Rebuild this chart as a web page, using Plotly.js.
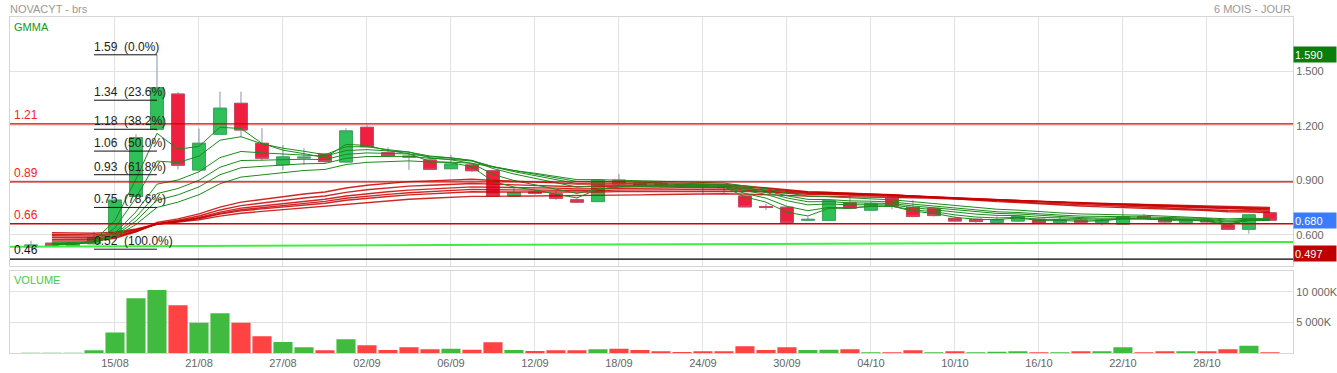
<!DOCTYPE html>
<html>
<head>
<meta charset="utf-8">
<script src="https://cdn.plot.ly/plotly-3.0.1.min.js"></script>
<style>html,body{margin:0;padding:0;background:#fff;}#chart{width:1337px;height:373px;}</style>
</head>
<body>
<div id="chart"></div>
<script>
// ---------- DATA ----------
const dates = ['09/08','12/08','13/08','14/08','15/08','16/08','19/08','20/08','21/08','22/08','23/08','26/08','27/08','28/08','29/08','30/08',
'02/09','03/09','04/09','05/09','06/09','09/09','10/09','11/09','12/09','13/09','16/09','17/09','18/09','19/09','20/09','23/09','24/09','25/09','26/09','27/09','30/09',
'01/10','02/10','03/10','04/10','07/10','08/10','09/10','10/10','11/10','14/10','15/10','16/10','17/10','18/10','21/10','22/10','23/10','24/10','25/10','28/10','29/10','30/10','31/10'];

const open  = [.532,.553,.535,.550,.610,.810,1.180,1.374,.956,1.153,1.323,1.103,.985,1.022,1.044,1.000,1.191,1.051,1.032,1.011,.963,.984,.952,.813,.835,.825,.792,.782,.900,.885,
.880,.875,.870,.868,.813,.755,.751,.680,.679,.775,.735,.800,.750,.745,.690,.685,.668,.675,.685,.668,.680,.668,.658,.700,.690,.668,.680,.653,.630,.720];
const high  = [.567,.556,.556,.617,.795,1.153,1.590,1.385,1.184,1.387,1.387,1.186,1.094,1.076,1.050,1.186,1.204,1.081,1.057,1.015,1.039,.990,.955,.861,.845,.840,.800,.905,.935,.890,
.890,.880,.885,.880,.820,.770,.755,.700,.790,.830,.780,.805,.790,.750,.700,.690,.700,.705,.690,.705,.690,.690,.740,.715,.700,.690,.690,.660,.715,.725];
const low   = [.530,.538,.532,.545,.600,.800,1.170,.960,.950,1.150,1.136,1.006,.956,.984,.995,.995,1.080,1.030,.956,.955,.960,.945,.810,.810,.820,.790,.775,.780,.875,.865,
.860,.865,.820,.830,.750,.735,.665,.675,.675,.740,.730,.740,.695,.700,.670,.665,.665,.670,.660,.665,.665,.650,.655,.685,.665,.665,.665,.625,.605,.680];
const close = [.543,.540,.552,.585,.790,1.134,1.409,.982,1.103,1.296,1.176,1.021,1.028,1.026,1.002,1.171,1.084,1.035,1.028,.960,.989,.952,.813,.831,.828,.800,.779,.900,.880,.872,
.872,.868,.865,.860,.753,.750,.666,.684,.787,.745,.770,.757,.700,.705,.675,.672,.683,.700,.664,.680,.668,.680,.700,.690,.670,.680,.670,.630,.709,.680];

// volume in thousands, and colour of each volume bar (1 = green, 0 = red)
const volumeK = [50,30,50,440,3330,8960,10270,7810,4920,6500,4920,2730,1800,930,440,2240,1260,490,930,600,710,550,1750,490,330,440,440,600,710,490,
300,160,270,270,1090,490,930,490,550,600,110,110,440,110,270,110,220,270,110,110,270,270,930,110,270,270,270,600,1200,110];
const volumeUp = [1,1,1,1,1,1,1,0,1,1,0,0,1,1,0,1,0,0,0,0,1,0,0,1,0,0,0,1,0,0,
0,0,0,0,0,0,0,1,1,0,1,0,0,1,0,1,1,1,0,1,0,1,1,0,0,1,0,0,1,0];

// GMMA lines, values from 12/08 to 31/10
const gmmaDates = dates.slice(1);
const ema3  = [.542,.547,.566,.678,.906,1.158,1.070,1.086,1.191,1.184,1.102,1.065,1.046,1.024,1.097,1.091,1.063,1.045,1.003,.996,.974,.893,.862,.846,.823,.802,.851,.865,.869,.870,.869,.867,.864,.808,.779,.723,.703,.745,.745,.758,.757,.729,.717,.696,.684,.683,.692,.678,.679,.673,.677,.688,.689,.680,.680,.675,.652,.681,.680];
const ema5  = [.545,.547,.560,.637,.803,1.005,.997,1.032,1.120,1.139,1.100,1.076,1.059,1.040,1.084,1.084,1.068,1.055,1.023,1.012,.992,.932,.898,.875,.850,.827,.851,.861,.865,.867,.867,.866,.864,.827,.801,.756,.732,.750,.748,.755,.756,.737,.726,.709,.697,.692,.695,.685,.683,.678,.679,.686,.687,.681,.681,.677,.661,.677,.678];
const ema8  = [.548,.549,.557,.609,.726,.878,.901,.946,1.024,1.058,1.050,1.045,1.041,1.032,1.063,1.068,1.061,1.054,1.033,1.023,1.007,.964,.934,.911,.886,.862,.870,.872,.872,.872,.871,.870,.868,.842,.822,.787,.764,.769,.764,.765,.763,.749,.739,.725,.713,.706,.705,.696,.692,.687,.685,.688,.688,.684,.683,.680,.669,.678,.678];
const ema10 = [.550,.550,.556,.599,.696,.826,.854,.899,.971,1.008,1.010,1.013,1.015,1.013,1.042,1.050,1.047,1.044,1.029,1.022,1.009,.973,.947,.926,.903,.881,.884,.883,.881,.879,.877,.875,.872,.850,.832,.802,.781,.782,.775,.774,.771,.758,.748,.735,.724,.717,.714,.705,.700,.694,.691,.693,.692,.688,.687,.684,.674,.680,.680];
const ema12 = [.552,.552,.557,.593,.676,.789,.819,.863,.930,.968,.976,.984,.990,.992,1.020,1.030,1.031,1.031,1.020,1.015,1.005,.975,.953,.934,.913,.893,.894,.892,.889,.886,.883,.880,.877,.858,.841,.814,.794,.793,.786,.784,.780,.768,.758,.745,.734,.726,.722,.713,.708,.702,.699,.699,.698,.694,.692,.689,.680,.684,.683];
const ema15 = [.555,.555,.559,.588,.656,.750,.779,.820,.880,.917,.930,.942,.953,.959,.986,.998,1.003,1.006,1.000,.999,.993,.971,.953,.938,.921,.903,.903,.900,.897,.894,.891,.888,.884,.868,.853,.830,.812,.809,.801,.797,.792,.781,.771,.759,.748,.740,.735,.726,.720,.714,.710,.709,.707,.702,.699,.695,.687,.690,.689];
const ema30 = [.565,.564,.565,.580,.616,.667,.687,.714,.752,.779,.795,.810,.824,.835,.857,.872,.883,.892,.896,.902,.905,.899,.895,.891,.885,.878,.879,.879,.879,.879,.878,.877,.876,.868,.860,.848,.837,.834,.828,.824,.820,.812,.805,.797,.789,.782,.777,.770,.764,.758,.753,.750,.746,.741,.737,.733,.726,.725,.722];
const ema35 = [.575,.574,.575,.587,.617,.661,.679,.703,.736,.760,.775,.789,.802,.813,.833,.847,.857,.867,.872,.878,.882,.878,.875,.873,.869,.864,.866,.867,.867,.867,.867,.867,.867,.861,.855,.844,.835,.832,.827,.824,.820,.813,.807,.800,.793,.787,.782,.775,.770,.764,.759,.756,.752,.747,.743,.739,.733,.732,.729];
const ema40 = [.585,.583,.583,.593,.619,.658,.674,.695,.724,.746,.759,.772,.784,.795,.813,.826,.836,.845,.851,.858,.863,.861,.860,.859,.856,.852,.854,.855,.856,.857,.858,.858,.858,.853,.848,.839,.831,.829,.825,.822,.819,.813,.808,.801,.795,.790,.786,.780,.775,.770,.766,.763,.759,.755,.751,.747,.741,.739,.736];
const ema45 = [.594,.592,.592,.601,.624,.658,.672,.691,.717,.737,.749,.761,.773,.783,.800,.812,.822,.831,.837,.844,.849,.847,.846,.845,.843,.840,.843,.845,.846,.847,.848,.849,.849,.845,.841,.833,.827,.825,.822,.820,.817,.812,.807,.801,.795,.790,.786,.781,.777,.772,.768,.765,.762,.758,.755,.751,.746,.744,.741];
const ema50 = [.602,.600,.599,.607,.628,.659,.672,.689,.713,.731,.742,.753,.764,.773,.789,.801,.810,.819,.825,.831,.836,.835,.835,.835,.834,.832,.835,.837,.838,.839,.840,.841,.842,.839,.835,.828,.822,.821,.818,.816,.814,.810,.806,.801,.796,.792,.788,.783,.779,.775,.771,.768,.765,.761,.758,.755,.750,.748,.745];
const ema60 = [.611,.609,.608,.614,.631,.657,.668,.682,.702,.718,.728,.738,.747,.755,.769,.779,.787,.795,.800,.806,.811,.811,.812,.813,.813,.812,.815,.817,.819,.821,.823,.824,.825,.823,.821,.816,.812,.811,.809,.808,.806,.803,.800,.796,.792,.788,.785,.781,.778,.774,.771,.769,.766,.763,.760,.757,.753,.752,.750];

// Fibonacci retracement
const fibLevels = [1.59, 1.34, 1.18, 1.06, 0.93, 0.75, 0.52];
const fibPcts   = ['0.0%','23.6%','38.2%','50.0%','61.8%','78.6%','100.0%'];
const fibFromDate = '14/08', fibToDate = '19/08';

// horizontal levels
const levelValues = [1.21, 0.89, 0.66, 0.465];
const levelLabels = ['1.21','0.89','0.66','0.46'];
const levelIsRed  = [1, 1, 1, 0];

// support trend line (start, end)
const trendValues = [0.534, 0.560];

// right-side value badges
const badgeValues = [1.590, 0.680, 0.497];
const badgeColors = ['#0b7d0b', '#3b7bff', '#c00000'];

// x tick labels
const tickDates = ['15/08','21/08','27/08','02/09','06/09','12/09','18/09','24/09','30/09','04/10','10/10','16/10','22/10','28/10'];

// ---------- CHART ----------
const FONT = 'Liberation Sans, Arial, sans-serif';
const GRID = '#e2e2e2', FRAME = '#d6d6d6';
const GREEN = '#2fc05a', RED = '#f01f3f';

const traces = [];
// wicks + bodies
traces.push({type:'candlestick', x:dates, open:open, high:high, low:low, close:close,
  xaxis:'x', yaxis:'y', hoverinfo:'skip', whiskerwidth:0,
  increasing:{line:{color:'#8397ae', width:1}, fillcolor:GREEN},
  decreasing:{line:{color:'#8397ae', width:1}, fillcolor:RED}});
// bodies with coloured borders
const bodyHigh = open.map((o,i)=>Math.max(o, close[i]));
const bodyLow  = open.map((o,i)=>Math.min(o, close[i]));
traces.push({type:'candlestick', x:dates, open:open, high:bodyHigh, low:bodyLow, close:close,
  xaxis:'x', yaxis:'y', hoverinfo:'skip', whiskerwidth:0,
  increasing:{line:{color:'#3aa85c', width:1}, fillcolor:GREEN},
  decreasing:{line:{color:'#c94a62', width:1}, fillcolor:RED}});

const longSet = [ema60, ema50, ema45, ema40, ema35, ema30];
longSet.forEach(s => traces.push({type:'scatter', mode:'lines', x:gmmaDates, y:s, xaxis:'x', yaxis:'y',
  hoverinfo:'skip', line:{color:'rgba(200,0,0,0.85)', width:1.4}}));
const shortSet = [ema15, ema12, ema10, ema8, ema5, ema3];
shortSet.forEach(s => traces.push({type:'scatter', mode:'lines', x:gmmaDates, y:s, xaxis:'x', yaxis:'y',
  hoverinfo:'skip', line:{color:'#1b8c1b', width:1}}));

// volume
traces.push({type:'bar', x:dates, y:volumeK, xaxis:'x2', yaxis:'y2', hoverinfo:'skip',
  marker:{color:volumeUp.map(u => u ? '#40bb40' : '#ff4242'), line:{width:0}}});

const shapes = [];
const annotations = [];

levelValues.forEach((v,i) => {
  const c = levelIsRed[i] ? '#d40000' : '#000000';
  shapes.push({type:'line', xref:'paper', x0:0, x1:1, yref:'y', y0:v, y1:v, line:{color:c, width:1.3}});
  annotations.push({xref:'paper', x:0, xanchor:'left', xshift:2, yref:'y', y:v, yanchor:'bottom', yshift:0,
    text:levelLabels[i], showarrow:false, font:{family:FONT, size:12, color: levelIsRed[i] ? '#ff2020' : '#111'}});
});

shapes.push({type:'line', xref:'paper', x0:0, x1:1, yref:'y', y0:trendValues[0], y1:trendValues[1],
  line:{color:'#40ee40', width:2}});

const fibFrom = dates.indexOf(fibFromDate), fibTo = dates.indexOf(fibToDate);
fibLevels.forEach((v,i) => {
  shapes.push({type:'line', xref:'x', x0:fibFrom, x1:fibTo, yref:'y', y0:v, y1:v, line:{color:'#111', width:1}});
  annotations.push({xref:'x', x:fibFrom, xanchor:'left', xshift:-2, yref:'y', y:v, yanchor:'bottom', yshift:-1,
    text: v.toFixed(2) + '&nbsp;&nbsp;(' + fibPcts[i] + ')', showarrow:false,
    font:{family:FONT, size:12, color:'#222'}});
});

badgeValues.forEach((v,i) => {
  annotations.push({xref:'paper', x:1, xanchor:'left', xshift:0, yref:'y', y:v, yanchor:'middle',
    text:v.toFixed(3), showarrow:false, bgcolor:badgeColors[i], borderpad:1, width:40, height:13, align:'left',
    font:{family:FONT, size:11, color:'#ffffff'}});
});

annotations.push({xref:'paper', x:0, xanchor:'left', xshift:-2, yref:'paper', y:1, yanchor:'bottom', yshift:0,
  text:'NOVACYT - brs', showarrow:false, font:{family:FONT, size:11, color:'#9a9a9a'}});
annotations.push({xref:'paper', x:1, xanchor:'right', xshift:0, yref:'paper', y:1, yanchor:'bottom', yshift:0,
  text:'6 MOIS - JOUR', showarrow:false, font:{family:FONT, size:11, color:'#9a9a9a'}});
annotations.push({xref:'paper', x:0, xanchor:'left', xshift:2, yref:'paper', y:1, yanchor:'top', yshift:-2,
  text:'GMMA', showarrow:false, font:{family:FONT, size:11, color:'#169a16'}});
annotations.push({xref:'paper', x:0, xanchor:'left', xshift:2, yref:'y2 domain', y:1, yanchor:'top', yshift:-1,
  text:'VOLUME', showarrow:false, font:{family:FONT, size:11, color:'#44cc44'}});

const xRange = [-1, 60.1];
const layout = {
  width:1337, height:373, paper_bgcolor:'#fff', plot_bgcolor:'#fff',
  margin:{l:10, r:44, t:17, b:20},
  showlegend:false, hovermode:false, boxgap:0.12, bargap:0.09,
  font:{family:FONT, size:11, color:'#666'},
  xaxis:{type:'category', categoryorder:'array', categoryarray:dates, range:xRange, anchor:'y',
    rangeslider:{visible:false}, showgrid:true, gridcolor:GRID, tickvals:tickDates, showticklabels:false,
    ticks:'', showline:true, mirror:true, linecolor:FRAME, linewidth:1, zeroline:false, fixedrange:true},
  yaxis:{domain:[0.26, 1], range:[0.4295, 1.798], side:'right', tickvals:[0.6,0.9,1.2,1.5], tickformat:'.3f',
    showgrid:true, gridcolor:GRID, showline:true, mirror:true, linecolor:FRAME, zeroline:false,
    ticks:'', tickfont:{family:FONT, size:11, color:'#666'}, fixedrange:true},
  xaxis2:{type:'category', categoryorder:'array', categoryarray:dates, range:xRange, anchor:'y2',
    showgrid:true, gridcolor:GRID, tickvals:tickDates, ticktext:tickDates, ticks:'',
    showline:true, mirror:true, linecolor:FRAME, zeroline:false, tickfont:{family:FONT, size:11, color:'#666'}, fixedrange:true},
  yaxis2:{domain:[0, 0.245], range:[0, 13443], side:'right', tickvals:[5000,10000], ticktext:['5 000K','10 000K'],
    showgrid:true, gridcolor:GRID, showline:true, mirror:true, linecolor:FRAME, zeroline:false, ticks:'',
    tickfont:{family:FONT, size:11, color:'#666'}, fixedrange:true},
  shapes:shapes, annotations:annotations
};

Plotly.newPlot('chart', traces, layout, {staticPlot:true, displayModeBar:false});
</script>
</body>
</html>
